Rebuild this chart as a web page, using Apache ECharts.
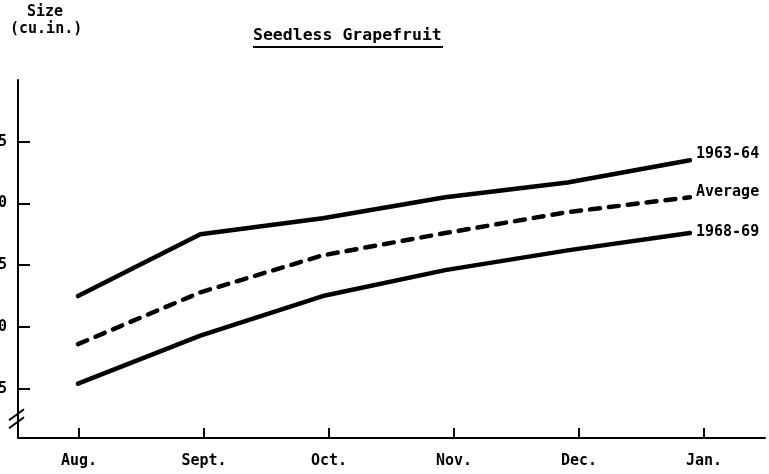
<!DOCTYPE html>
<html><head><meta charset="utf-8">
<script src="https://cdn.jsdelivr.net/npm/echarts@6/dist/echarts.min.js"></script>
<style>html,body{margin:0;padding:0;background:#fff}#c{width:769px;height:474px}</style>
</head><body><div id="c"></div>
<script>
// ---- data ----
const months = ['Aug.', 'Sept.', 'Oct.', 'Nov.', 'Dec.', 'Jan.'];
const seriesNames = ['1963-64', 'Average', '1968-69'];
const size196364 = [22.5, 27.5, 28.8, 30.5, 31.7, 33.5];
const sizeAverage = [18.6, 22.8, 25.8, 27.6, 29.3, 30.5];
const size196869 = [15.4, 19.3, 22.5, 24.6, 26.2, 27.6];
const yTicks = [15, 20, 25, 30, 35];
const titleText = 'Seedless Grapefruit';
const yNameLines = ['Size', '(cu.in.)'];

const FONT = 'DejaVu Sans Mono';
const monthIdx = months.map((m, i) => i);
const toPts = arr => arr.map((v, i) => [i, v]);

const chart = echarts.init(document.getElementById('c'), null, {renderer: 'canvas'});

function lineSeries(name, data, dashed, labelOffsetY) {
  return {
    name: name, type: 'line', xAxisIndex: 1, yAxisIndex: 0,
    data: toPts(data), symbol: 'none', smooth: false, silent: true,
    lineStyle: {color: '#000', width: 4.5, type: dashed ? [10, 9] : 'solid', cap: 'round', join: 'round'},
    endLabel: {show: true, formatter: name, color: '#000', fontFamily: FONT, fontWeight: 'bold',
               fontSize: 15, distance: 6, offset: [0, labelOffsetY]},
    animation: false
  };
}

const option = {
  animation: false,
  backgroundColor: '#fff',
  grid: {left: 18, right: 4, top: 80, bottom: 36, containLabel: false, outerBoundsMode: 'none'},
  xAxis: [
    {type: 'value', min: -0.488, max: 5.488, position: 'bottom',
     axisLine: {show: true, onZero: false, lineStyle: {color: '#000', width: 2}},
     axisTick: {show: true, inside: true, length: 10, customValues: monthIdx, lineStyle: {color: '#000', width: 2}},
     axisLabel: {show: true, customValues: monthIdx, formatter: v => months[Math.round(v)] || '',
                 color: '#000', fontFamily: FONT, fontWeight: 'bold', fontSize: 15, margin: 16},
     splitLine: {show: false}},
    {type: 'value', min: -0.49, max: 5.613, show: false, axisLine: {onZero: false}, splitLine: {show: false}}
  ],
  yAxis: [{
    type: 'value', min: 11, max: 40, position: 'left',
    axisLine: {show: true, onZero: false, lineStyle: {color: '#000', width: 2}},
    axisTick: {show: true, inside: true, length: 12, customValues: yTicks, lineStyle: {color: '#000', width: 2}},
    axisLabel: {show: true, customValues: yTicks, color: '#000', fontFamily: FONT, fontWeight: 'bold',
                fontSize: 15, margin: 11},
    splitLine: {show: false}
  }],
  series: [
    lineSeries(seriesNames[0], size196364, false, -6),
    lineSeries(seriesNames[1], sizeAverage, true, -5),
    lineSeries(seriesNames[2], size196869, false, -1)
  ]
};
chart.setOption(option);

// decorations: title, axis name, axis break
const ax = chart.convertToPixel({yAxisIndex: 0}, 12.6);
const axX = 18;
chart.setOption({
  graphic: [
    {type: 'text', left: 253, top: 27, style: {text: titleText, fill: '#000', font: 'bold 16.5px "' + FONT + '"'}},
    {type: 'line', shape: {x1: 253, y1: 47, x2: 443, y2: 47}, style: {stroke: '#000', lineWidth: 2}},
    {type: 'text', left: 27, top: 5, style: {text: yNameLines[0], fill: '#000', font: 'bold 15px "' + FONT + '"'}},
    {type: 'text', left: 10, top: 22, style: {text: yNameLines[1], fill: '#000', font: 'bold 15px "' + FONT + '"'}},
    {type: 'line', shape: {x1: axX - 9, y1: ax + 2, x2: axX + 6, y2: ax - 9}, style: {stroke: '#000', lineWidth: 2}},
    {type: 'line', shape: {x1: axX - 9, y1: ax + 10, x2: axX + 6, y2: ax - 1}, style: {stroke: '#000', lineWidth: 2}}
  ]
});
</script>
</body></html>
